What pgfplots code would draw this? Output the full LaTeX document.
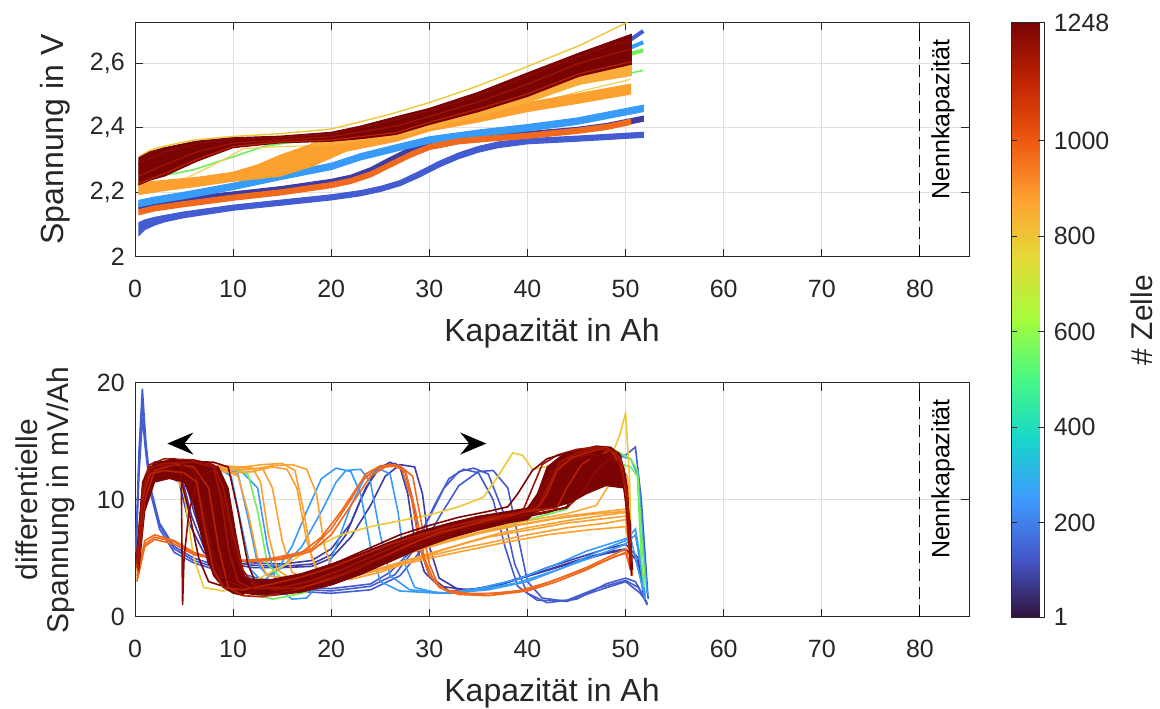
\documentclass[border=0pt]{standalone}
\usepackage{fontspec}
\setmainfont{Liberation Sans}
\usepackage{pgfplots}
\pgfplotsset{compat=1.18}
\usetikzlibrary{arrows.meta}

\definecolor{axc}{RGB}{38,38,38}
\definecolor{gridc}{RGB}{223,223,223}
\definecolor{cR1}{RGB}{122,4,3}
\definecolor{cR2}{RGB}{140,10,3}
\definecolor{cR3}{RGB}{160,20,3}
\definecolor{cR4}{RGB}{182,32,4}
\definecolor{cOR}{RGB}{240,105,28}
\definecolor{cO}{RGB}{252,160,48}
\definecolor{cO2}{RGB}{250,172,58}
\definecolor{cY}{RGB}{236,200,55}
\definecolor{cY2}{RGB}{242,208,90}
\definecolor{cG}{RGB}{110,240,90}
\definecolor{cLB}{RGB}{55,155,250}
\definecolor{cB}{RGB}{68,92,210}
\definecolor{cI}{RGB}{62,60,165}

\pgfplotsset{
  myaxis/.style={
    scale only axis, width=417pt,
    xmin=0, xmax=85, xtick={0,10,...,80},
    grid=major, major grid style={gridc, line width=0.5pt},
    axis line style={axc, line width=0.5pt},
    tick style={axc, line width=0.5pt},
    major tick length=4pt,
    tick align=inside,
    ticklabel style={font=\fontsize{12.5}{15}\selectfont, text=axc},
    label style={font=\fontsize{16}{17}\selectfont, text=axc},
    /pgf/number format/assume math mode=true,
    xticklabel style={yshift=-8pt},
    yticklabel style={xshift=-1.6pt},
    xlabel style={at={(axis description cs:0.5,-0.3255)}, anchor=center},
    xlabel={Kapazität in Ah},
  },
  bl/.style={line width=0.8pt},
  band/.style={line width=0.5pt},
}

\begin{document}
\begin{tikzpicture}
\useasboundingbox (0,0) rectangle (580pt,354pt);

% ---------------- top axis ----------------
\begin{axis}[myaxis,
  at={(67.5pt,225.65pt)}, anchor=south west, height=117.2pt,
  ymin=2, ymax=2.727, ytick={2,2.2,2.4,2.6}, yticklabels={2,{2,2},{2,4},{2,6}},
  ylabel={Spannung in V},
  ylabel style={at={(axis description cs:-0.096,0.5)}, anchor=center},
]
% indigo band
\addplot[band, draw=cI, fill=cI] coordinates {(0.4,2.163) (2,2.173) (5,2.185) (10,2.201) (15,2.218) (20,2.24) (22,2.253) (24,2.276) (26,2.308) (28,2.338) (30,2.358) (33,2.372) (36,2.38) (40,2.388) (45,2.401) (48,2.413) (51.8,2.436)
 (51.8,2.42) (48,2.397) (45,2.385) (40,2.372) (36,2.364) (33,2.356) (30,2.342) (28,2.322) (26,2.292) (24,2.26) (22,2.237) (20,2.224) (15,2.202) (10,2.185) (5,2.169) (2,2.157) (0.4,2.147)} --cycle;
% blue lower band
\addplot[band, draw=cB, fill=cB] coordinates {(0.4,2.106) (1,2.114) (2,2.122) (3,2.128) (5,2.139) (10,2.16) (15,2.176) (20,2.192) (23,2.205) (25,2.218) (27,2.236) (29,2.265) (31,2.296) (33,2.322) (35,2.342) (37,2.356) (40,2.366) (45,2.374) (51.8,2.386)
 (51.8,2.37) (45,2.358) (40,2.35) (37,2.338) (35,2.324) (33,2.304) (31,2.278) (29,2.247) (27,2.22) (25,2.202) (23,2.189) (20,2.176) (15,2.16) (10,2.144) (5,2.121) (3,2.108) (2,2.098) (1,2.084) (0.4,2.066)} --cycle;
% blue top line
\addplot[cB, line width=2pt] coordinates {(0.4,2.285) (3,2.332) (6,2.352) (10,2.362) (15,2.368) (20,2.378) (25,2.415) (30,2.45) (35,2.5) (40,2.555) (45.3,2.618) (50.6,2.675) (51.8,2.7)};
% light blue band
\addplot[band, draw=cLB, fill=cLB] coordinates {(0.4,2.175) (2,2.185) (5,2.2) (10,2.228) (15,2.26) (20,2.29) (23,2.32) (26.6,2.347) (30,2.372) (35,2.393) (40,2.41) (45,2.43) (51.8,2.47)
 (51.8,2.45) (45,2.41) (40,2.39) (35,2.373) (30,2.352) (26.6,2.327) (23,2.3) (20,2.27) (15,2.24) (10,2.208) (5,2.18) (2,2.165) (0.4,2.155)} --cycle;
\addplot[cLB, line width=2pt] coordinates {(0.4,2.27) (3,2.3) (6,2.33) (10,2.358) (15,2.365) (20,2.376) (25,2.41) (30,2.445) (35,2.49) (40,2.545) (45.3,2.61) (50.6,2.65) (51.8,2.665)};
% green
\addplot[cG, line width=2pt] coordinates {(0.4,2.26) (3,2.29) (6,2.32) (10,2.35) (15,2.362) (20,2.372) (25,2.4) (30,2.435) (35,2.48) (40,2.535) (45.3,2.6) (50.6,2.63) (51.8,2.64)};
\addplot[cG, line width=0.8pt] coordinates {(0.4,2.238) (3,2.252) (6,2.27) (10,2.31) (13.2,2.343) (16,2.355) (20,2.364) (26.6,2.378) (30,2.4) (35,2.438) (40,2.485) (45.3,2.535) (51.8,2.578)};
% yellow
\addplot[cY, line width=0.7pt] coordinates {(0.4,2.31) (1.5,2.33) (3,2.343) (6,2.362) (10,2.373) (15,2.382) (20,2.396) (25.8,2.44) (30,2.478) (35,2.53) (40,2.59) (45.3,2.655) (50.2,2.727)};
\addplot[cY2, line width=0.6pt] coordinates {(0.4,2.2) (5,2.24) (9,2.3) (11,2.335) (15,2.342) (20,2.345) (26.6,2.36) (30,2.39) (35,2.43) (40,2.47) (45,2.51) (50.5,2.55)};
% orange lower band
\addplot[band, draw=cO, fill=cO] coordinates {(0.4,2.229) (3,2.237) (6.3,2.246) (10,2.262) (12.5,2.285) (14.8,2.315) (18.1,2.35) (21.5,2.366) (26.6,2.381) (30,2.41) (35,2.442) (40,2.478) (45,2.505) (50.5,2.535)
 (50.5,2.504) (45,2.475) (40,2.45) (35,2.418) (30,2.39) (26.6,2.358) (21.5,2.327) (18.1,2.281) (14.8,2.25) (12.5,2.242) (10,2.234) (6.3,2.218) (3,2.205) (0.4,2.193)} --cycle;
% orange upper band
\addplot[band, draw=cO2, fill=cO2] coordinates {(18,2.352) (20,2.36) (23,2.372) (26.6,2.385) (30,2.412) (35,2.455) (40,2.502) (45.3,2.565) (50.6,2.597)
 (50.6,2.562) (45.3,2.535) (40,2.478) (35,2.436) (30,2.398) (26.6,2.372) (23,2.36) (20,2.348) (18,2.34)} --cycle;
% orange-red band
\addplot[band, draw=cOR, fill=cOR] coordinates {(0.4,2.146) (2,2.158) (5,2.171) (10,2.191) (15,2.208) (20,2.23) (22,2.243) (24,2.263) (26,2.293) (28,2.323) (30,2.348) (33,2.366) (36,2.374) (40,2.383) (45,2.398) (48,2.41) (50.5,2.426)
 (50.5,2.41) (48,2.394) (45,2.382) (40,2.367) (36,2.358) (33,2.35) (30,2.332) (28,2.307) (26,2.277) (24,2.247) (22,2.227) (20,2.214) (15,2.192) (10,2.175) (5,2.155) (2,2.142) (0.4,2.13)} --cycle;
% red band
\addplot[band, draw=cR1, fill=cR1] coordinates {(0.4,2.307) (1.5,2.325) (3,2.338) (6.3,2.358) (10,2.369) (14.8,2.374) (20,2.386) (23,2.405) (26.6,2.434) (30,2.46) (35,2.51) (40,2.57) (45.3,2.632) (50.6,2.69)
 (50.6,2.597) (45.3,2.56) (40,2.497) (35,2.45) (30,2.41) (26.6,2.379) (23,2.366) (20,2.358) (14.8,2.353) (10,2.338) (6.3,2.296) (3,2.25) (1.5,2.237) (0.4,2.223)} --cycle;
\addplot[cR4, line width=0.6pt] coordinates {(0.4,2.228) (3,2.258) (6.3,2.302) (10,2.342) (14.8,2.356) (20,2.362) (26.6,2.385) (30,2.417) (35,2.458) (40,2.505) (45.3,2.568) (50.6,2.605)};
\addplot[cR3, line width=0.6pt] coordinates {(0.4,2.25) (3,2.285) (6.3,2.325) (10,2.352) (14.8,2.362) (20,2.372) (26.6,2.405) (30,2.435) (35,2.48) (40,2.535) (45.3,2.6) (50.6,2.645)};
\addplot[cR2, line width=0.6pt] coordinates {(0.4,2.29) (3,2.325) (6.3,2.35) (10,2.364) (14.8,2.37) (20,2.381) (26.6,2.425) (30,2.452) (35,2.5) (40,2.56) (45.3,2.622) (50.6,2.675)};
% nominal capacity
\addplot[black, line width=0.5pt, dash pattern=on 6pt off 3pt] coordinates {(80,2) (80,2.727)};
\node[rotate=90, anchor=east, font=\fontsize{12.5}{15}\selectfont] at (axis description cs:0.9688,0.957) {Nennkapazität};
\end{axis}

% ---------------- bottom axis ----------------
\begin{axis}[myaxis,
  at={(67.5pt,45.65pt)}, anchor=south west, height=117pt,
  ymin=0, ymax=20, ytick={0,10,20},
  ylabel={differentielle\\Spannung in mV/Ah},
  ylabel style={at={(axis description cs:-0.108,0.5)}, anchor=center, align=center, font=\fontsize{15}{15.5}\selectfont},
  colormap={turbo}{rgb255(0cm)=(48,18,59); rgb255(1cm)=(68,88,203); rgb255(2cm)=(62,155,254); rgb255(3cm)=(24,214,203); rgb255(4cm)=(70,248,132); rgb255(5cm)=(164,252,60); rgb255(6cm)=(226,220,56); rgb255(7cm)=(254,163,49); rgb255(8cm)=(239,89,17); rgb255(9cm)=(194,36,3); rgb255(10cm)=(122,4,3)},
  colorbar, point meta min=1, point meta max=1248,
  colorbar style={
    at={(parent axis.south east)}, anchor=south west, xshift=12.5pt, yshift=-0.3pt,
    scale only axis, width=16.5pt, height=297.3pt,
    ytick={1,200,400,600,800,1000,1248},
    yticklabels={1,200,400,600,800,1000,1248},
    yticklabel style={font=\fontsize{12.5}{15}\selectfont, text=axc, xshift=1.3pt},
    tick align=inside, major tick length=3pt,
    tick style={axc, line width=0.5pt},
    axis line style={axc, line width=0.5pt},
  },
]
% indigo
\addplot[bl, cI] coordinates {(0.2,5) (0.8,11) (1.5,12.5) (3,12.6) (5,12) (6,9) (7,6.5) (9,5) (12,4.6) (15,4.5) (18,4.8) (20,5.8) (22,8) (23.5,11) (25,12.8) (26.5,13.1) (27.5,12.5) (28.3,10) (29,6) (30,3.5) (32,2.2) (35,2.4) (38,3) (42,4) (45,4.8) (48,5.5) (50,5.8) (51,5) (51.8,2.5)};
\addplot[bl, cI] coordinates {(0.2,4.5) (0.8,10.5) (1.5,12) (3,12.2) (4.5,11.5) (5.5,8) (7,5.5) (9,4.6) (12,4.2) (15,4.2) (18,4.3) (20,5) (22,6.8) (24,9.5) (25.5,12) (27,13) (28.5,12.8) (29.3,10.5) (30,6) (31,3.3) (33,2.3) (36,2.4) (39,3.2) (42,4.2) (45,5) (48,5.8) (50,6.2) (51.3,5) (51.8,2)};
\addplot[bl, cI] coordinates {(0.2,4.8) (0.8,10.8) (1.5,12.3) (3,12.4) (4.8,11.8) (5.8,8.5) (7,6) (9,4.8) (12,4.4) (15,4.3) (18,4.5) (20,5.3) (21.5,7) (23,10) (24.5,12.5) (26,13.2) (27,12.8) (27.8,10.5) (28.5,6.5) (29.5,3.8) (31,2.6) (34,2.3) (37,2.7) (41,3.7) (45,4.7) (48,5.4) (50,5.7) (51.2,4.8) (51.8,2.2)};
% blue
\addplot[bl, cB] coordinates {(0.1,6) (0.4,14) (0.75,19.5) (1.1,15) (1.6,11) (2.5,8) (4,6) (6,5) (9,4.2) (12,3.4) (16,2.6) (20,2.4) (24,2.8) (26,3.8) (28,5.5) (30,8.5) (31.5,11) (33,12.4) (34.5,12.7) (36,12.2) (37.5,9) (38.7,4.5) (40,2) (42,1.2) (45,1.5) (48,2.8) (50,3.3) (51,3) (51.8,1.8) (52.2,1)};
\addplot[bl, cB] coordinates {(0.1,5.5) (0.4,12) (0.75,17) (1.1,14) (1.6,10.5) (2.5,7.5) (4,5.5) (6,4.6) (9,3.8) (12,3) (16,2.2) (20,2) (24,2.3) (27,3.5) (29,5.5) (31,8.5) (33,11.2) (35,12.4) (36.5,12.5) (38,11) (39,7) (40,3) (41.5,1.6) (44,1.3) (47,2.2) (50,3) (51.5,2) (52.2,1.2)};
\addplot[bl, cB] coordinates {(0.1,5.8) (0.4,13) (0.75,18.5) (1.1,14.5) (1.6,10.8) (2.5,7.8) (4,5.8) (6,4.8) (9,4) (12,3.2) (16,2.4) (20,2.2) (24,2.6) (26.5,3.6) (28.5,5.8) (30.5,9.5) (32,11.8) (33.5,12.6) (35,12.3) (36.5,10) (37.7,6) (39,2.6) (41,1.4) (44,1.4) (47,2.4) (50,3.1) (51.3,2.5) (52.2,1.1)};
\addplot[bl, cB] coordinates {(0.2,5) (0.8,11) (2,13) (4,13.3) (5.5,12.8) (6.5,9) (7.5,5) (9,3) (12,2.7) (16,2.8) (20,3.6) (25,5.3) (30,7) (35,8.2) (40,9) (42,9.5) (44,12.5) (46,13.8) (48,14) (50,13.8) (51,14.5) (51.6,10) (52.3,1.5)};
% light blue
\addplot[bl, cLB] coordinates {(0.2,4) (0.7,9.5) (1.5,12) (3,12.8) (6,13) (9,12.8) (10.5,12.2) (11.5,8.5) (12.5,4.5) (13.5,3.5) (15,4.2) (17,6) (19,9) (20.5,11.5) (21.5,12.5) (23,12.6) (24,11.5) (25,7) (26,3.5) (28,2.3) (32,2) (36,2.3) (40,3) (44,4.3) (47,5.5) (50,6.5) (51,7.5) (51.5,5) (52,1.8)};
\addplot[bl, cLB] coordinates {(0.2,4.5) (0.7,10) (1.5,12.3) (3,12.9) (6,12.9) (9,12.7) (11,12.3) (12.5,11) (13.5,6) (14.5,2.5) (16,1.5) (17.5,1.6) (19,3) (20.5,6) (22,9.5) (23.5,12) (25,12.6) (26,12.2) (26.8,9) (27.5,4.5) (28.5,2.5) (31,2) (35,2.4) (39,3.2) (43,4.5) (46,5.6) (49,6.4) (50.5,6.8) (51.3,4) (52,1.5)};
\addplot[bl, cLB] coordinates {(0.2,4.2) (0.7,9.8) (1.5,12.1) (3,12.7) (6,12.9) (8.5,12.7) (9.8,12) (10.8,8) (11.8,4) (13,3) (14.5,4) (16,6) (17.5,9) (19,11.8) (20.5,12.7) (22,12.4) (23,10.5) (24,6) (25,3) (27,2.2) (31,2) (35,2.3) (39,2.9) (43,4) (47,5.2) (50,6.2) (51,7) (51.5,4.5) (52,1.6)};
\addplot[bl, cLB] coordinates {(0.2,5) (0.8,11) (2,13) (4,13.3) (6,13) (7.5,11) (8.5,6) (9.5,3) (12,2.5) (16,2.6) (20,3.3) (25,5) (30,6.8) (35,8) (40,8.8) (43,9.5) (45,12) (47,13.5) (49,13.8) (50.5,13.5) (51.3,12) (51.8,6) (52.2,2)};
% green
\addplot[bl, cG] coordinates {(0.2,4.5) (1,11.5) (2,12.8) (5,12.9) (8,12.8) (10,12.6) (11.5,12.2) (12.5,9) (13.5,4.5) (15,3.2) (18,3.4) (22,4.4) (26,5.3) (30,6.1) (34,7) (38,7.8) (41,8.5) (44,9.2) (45.5,11) (47,12.8) (49,13.2) (50.5,12.8) (51.2,12) (51.6,5) (51.9,2.5)};
\addplot[bl, cG] coordinates {(0.2,5) (1,12) (2,13.2) (4,13.4) (6,13) (7,11) (8,6) (9,3) (11,2.2) (14,1.5) (17,2) (20,3) (25,4.8) (30,6.6) (35,7.9) (40,8.8) (42,9.5) (43.5,12) (45,13.6) (47,14) (49,14.2) (50.5,13.5) (51.2,12.5) (51.7,6) (52,3)};
% yellow
\addplot[bl, cY] coordinates {(0.3,4) (1,10) (2,12) (4,12.3) (5,10.5) (6,5) (7,2.5) (9,2.2) (12,3) (15,4.3) (18,5.8) (21,7) (24,7.7) (27,8.2) (30,8.7) (33,9.4) (35.5,10.2) (37,12) (38.5,14) (39.5,13.8) (40.5,12.6) (43,13) (46,13.3) (48.5,13.6) (49.4,15.5) (50,17.4) (50.4,12) (50.6,5)};
% orange
\addplot[bl, cO] coordinates {(0.2,3.8) (1,9.5) (2,11.8) (4,12.2) (6,12.4) (8,12.5) (10,12.3) (12,12.4) (14,12.8) (15.5,12.6) (16.5,11) (17.5,6.5) (18.5,4) (20,3.4) (23,3.7) (27,4.5) (30,5.2) (33,5.8) (36,6.3) (40,7) (44,7.6) (48,8) (50,8.3) (50.4,6.5) (50.6,4.5)};
\addplot[bl, cO] coordinates {(0.2,4) (1,10) (2,12) (4,12.4) (7,12.7) (10,12.5) (12,12.6) (14,12.9) (16,13) (17.5,12.6) (18.5,10.5) (19.3,6) (20.3,3.6) (22,3.2) (25,3.8) (28,4.7) (31,5.6) (34,6.4) (37,7.1) (40,7.6) (44,8.2) (48,8.7) (50,8.9) (50.4,7) (50.6,5)};
\addplot[bl, cO] coordinates {(0.2,4.2) (1,10.5) (2,12.3) (4,12.6) (7,12.8) (9,12.6) (10.5,12) (11.5,9) (12.5,5) (13.5,3.5) (16,3.3) (20,3.8) (24,4.6) (28,5.6) (32,6.6) (36,7.4) (40,8) (44,8.6) (48,9) (50,9.2) (50.4,7.5) (50.6,5)};
\addplot[bl, cO] coordinates {(0.2,4) (1,10) (2,12.1) (5,12.5) (8,12.8) (11,12.6) (13,12.7) (14,11) (15,6.5) (16,3.8) (18,3) (22,3.4) (26,4.2) (30,5) (34,5.7) (38,6.4) (42,7) (46,7.4) (50,7.7) (50.4,6) (50.6,4.5)};
\addplot[bl, cO] coordinates {(0.2,4.1) (1,10.2) (2,12.2) (5,12.6) (8,12.9) (11,12.8) (13,13) (15,13.1) (16.3,12.5) (17.2,9) (18,5) (19,3.5) (21,3.3) (24,3.9) (28,4.9) (32,5.9) (36,6.8) (40,7.4) (44,8) (48,8.4) (50,8.6) (50.4,6.8) (50.6,4.8)};
\addplot[bl, cO] coordinates {(0.2,4.3) (1,10.4) (2,12.4) (5,12.7) (8,12.9) (10,12.8) (12,12.7) (12.8,11.5) (13.6,7) (14.5,4) (16,3.2) (19,3.5) (23,4.3) (27,5.2) (31,6.2) (35,7.1) (39,7.8) (43,8.4) (47,8.8) (50,9) (50.4,7.2) (50.6,5)};
\addplot[bl, cO2] coordinates {(0.2,5) (1,11.5) (2,13) (4,13.2) (6,13) (7.5,12.5) (8.5,9) (9.5,4.5) (10.5,3) (13,2.6) (16,2.8) (20,3.6) (25,5) (30,6.4) (35,7.4) (40,8.2) (44,8.8) (47,9.5) (48.5,11.5) (49.5,12.8) (50.2,12) (50.6,6)};
% orange-red
\addplot[bl, cOR] coordinates {(0.2,3.5) (1,6.5) (2,7) (4,6.5) (6,5.5) (8,5) (11,4.8) (14,5) (17,5.5) (19,6.8) (21,9) (23,11.5) (24.5,12.6) (26,13) (27.2,12.6) (28.2,10) (29,6) (30,3.5) (31.5,2.3) (34,2) (37,2) (40,2.3) (43,3.2) (46,4.2) (48,5) (50,5.8) (50.4,4.5)};
\addplot[bl, cOR] coordinates {(0.2,3) (1,6) (2,6.6) (4,6.2) (6,5.3) (9,4.8) (12,4.7) (15,4.9) (18,5.6) (20,7) (22,9.5) (24,12) (25.5,12.8) (27,12.9) (28.3,12) (29.2,8) (30,4.5) (31,2.5) (33,1.9) (36,1.8) (40,2.2) (43,3) (46,4) (49,5.2) (50.5,5.5) (50.7,3.5)};
\addplot[bl, cOR] coordinates {(0.2,3.2) (1,6.2) (2,6.8) (4,6.4) (6,5.4) (9,4.9) (12,4.8) (15,5) (18,5.8) (20,7.5) (22,10) (23.5,12.2) (25,12.9) (26.5,13) (27.6,12.3) (28.6,9) (29.5,5) (30.5,3) (32,2.1) (35,1.9) (39,2.2) (42,2.9) (45,3.8) (48,4.8) (50,5.5) (50.5,4)};
% red masses
\addplot[band, draw=cR1, fill=cR1] coordinates {(0.3,4.5) (0.8,10.5) (1.5,12.5) (3,13.3) (5,13.4) (7,13.2) (8.5,12.8) (9.5,11) (10.3,7) (11,4) (11.5,2.5) (11,1.8) (10,2) (9,2.5) (8,3.5) (7,6) (6,9.5) (5,11.5) (3.5,11.8) (2,11.5) (1,9) (0.4,4)} --cycle;
\addplot[band, draw=cR1, fill=cR1] coordinates {(9,4.5) (10,3.6) (12,3.2) (14,3.2) (17,3.7) (20,4.5) (23,5.4) (26,6.4) (29,7.3) (32,8) (35,8.6) (38,9) (40,9.3)
 (40,8.3) (38,8) (35,7.4) (32,6.7) (29,5.8) (26,4.7) (23,3.6) (20,2.7) (17,2.1) (14,1.8) (12,1.9) (10,2.2) (9,2.6)} --cycle;
\addplot[band, draw=cR1, fill=cR1] coordinates {(40,9.3) (41,10.5) (42,12.8) (43.5,13.8) (45,14.2) (47,14.6) (48.5,14.5) (49.5,13.8) (50.2,11) (50.6,4) (50.5,8) (49.8,11) (48,11.2) (46,10.5) (44.5,9.8) (43,9.4) (41,9) (40,8.3)} --cycle;
% red lines
\addplot[bl, cR2] coordinates {(0.2,5) (0.8,11) (1.5,12.8) (3,13.2) (5,13) (6,12.5) (7,9) (8,5) (9,3.2) (11,2.5) (14,2.3) (17,2.8) (20,3.6) (23,4.6) (26,5.8) (29,6.7) (32,7.5) (35,8.1) (38,8.6) (40,8.9) (41,10) (42.5,12.5) (44,13.3) (46,13.8) (48,14) (49.5,13) (50.2,10) (50.6,5)};
\addplot[bl, cR1] coordinates {(0.2,4.5) (0.8,10.5) (1.5,12.5) (3,12.8) (4.5,12.3) (5.5,9) (6.5,5) (7.5,3) (9,2.6) (12,2.2) (15,2.3) (18,2.9) (21,3.8) (24,5) (27,6) (30,6.9) (33,7.7) (36,8.3) (39,8.8) (42,9.2) (43,10.5) (44.5,12.8) (46,13.5) (48,14.2) (49.5,13.5) (50.3,9) (50.7,4)};
\addplot[bl, cR3] coordinates {(0.2,5.5) (0.8,11.5) (1.5,13) (3,13.5) (6,13.4) (8,13) (9,11) (10,7) (11,4) (12,2.8) (14,2.3) (17,2.5) (20,3.2) (23,4.2) (26,5.4) (29,6.5) (32,7.3) (35,8) (38,8.5) (39.5,9) (40.5,11) (41.5,13) (43,13.8) (45,14.3) (47,14.5) (49,14) (50,11.5) (50.5,6)};
\addplot[bl, cR4] coordinates {(0.3,4) (1,10) (2,12.5) (4,13) (6,12.8) (7.5,11) (8.5,6) (9.5,2.5) (11,1.8) (13,1.7) (16,2.2) (19,3) (22,4) (25,5) (28,6.2) (31,7.2) (34,7.8) (37,8.5) (40,9) (43,9.3) (44,11) (45.5,13) (47,13.8) (48.5,14.2) (49.8,12.5) (50.5,4)};
\addplot[bl, cR1] coordinates {(0.2,5) (0.8,11) (2,13) (4,13.5) (5.5,12.5) (6.5,8) (7.5,4.5) (9,3.2) (12,3) (15,3.2) (18,3.8) (21,4.8) (24,5.9) (27,7) (30,7.8) (33,8.5) (36,9) (38,9.4) (39,10.5) (40.5,12.5) (42,13.5) (44,14) (46,14.2) (48,13.8) (49.5,13) (50.3,8) (50.6,3.5)};
\addplot[bl, cR2] coordinates {(0.3,4.5) (1,11) (2,12.8) (3.5,13) (4.7,13.2) (4.85,1) (5.0,5) (5.5,9) (6.5,12) (8,12.5) (9,10) (10,6) (11,3.5) (13,2.5) (16,2.6) (20,3.4) (24,4.6) (28,5.9) (32,7) (36,8) (40,8.7) (44,9.3) (45.5,10.5) (47,12.5) (48.5,13.6) (49.8,12.8) (50.5,5)};
\addplot[bl, cR1] coordinates {(0.2,5) (0.8,11.5) (2,13.2) (5,13.3) (8,13.2) (9.5,12.8) (10.5,9) (11.5,4.5) (12.5,2.5) (15,2) (18,2.4) (21,3.2) (24,4.2) (27,5.3) (30,6.3) (33,7.2) (36,7.9) (39,8.4) (42,8.9) (44,9.4) (45.3,11.5) (46.5,13.5) (48,14.3) (49.3,14) (50,12) (50.6,5)};
\addplot[bl, cR4] coordinates {(0.2,4.2) (0.8,10.2) (1.5,12.2) (3,12.5) (5,12.3) (6.3,11.5) (7,8) (8,4) (9,2.5) (11,2.3) (14,2.8) (17,3.4) (20,4.2) (23,5.2) (26,6.2) (29,7) (32,7.7) (35,8.2) (38,8.7) (41,9.2) (42,10.5) (43,12.5) (44.5,13.6) (46,14) (48,14.5) (49.5,13.5) (50.2,9.5) (50.6,4.5)};
\addplot[bl, cR3] coordinates {(0.2,4.8) (0.8,10.8) (1.5,12.7) (3,13.1) (6,13.2) (8,12.8) (8.8,10) (9.6,5.5) (10.5,3) (12,2.4) (15,2.5) (18,3.1) (21,4) (24,5.1) (27,6.2) (30,7.1) (33,7.9) (36,8.5) (39,8.9) (41,9.3) (42,11) (43.3,13.2) (45,14) (47,14.4) (49,14.1) (50.1,11) (50.6,4.5)};
% arrow
\addplot[black, line width=0.6pt, arrows={Stealth[length=13pt,width=11pt,inset=4.5pt]-Stealth[length=13pt,width=11pt,inset=4.5pt]}] coordinates {(3.3,14.8) (35.8,14.8)};
% nominal capacity
\addplot[black, line width=0.5pt, dash pattern=on 6pt off 3pt] coordinates {(80,0) (80,20)};
\node[rotate=90, anchor=east, font=\fontsize{12.5}{15}\selectfont] at (axis description cs:0.9688,0.96) {Nennkapazität};
\end{axis}

\node[rotate=90, font=\fontsize{15}{16}\selectfont, text=axc] at (571pt,194pt) {\# Zelle};
\end{tikzpicture}
\end{document}
